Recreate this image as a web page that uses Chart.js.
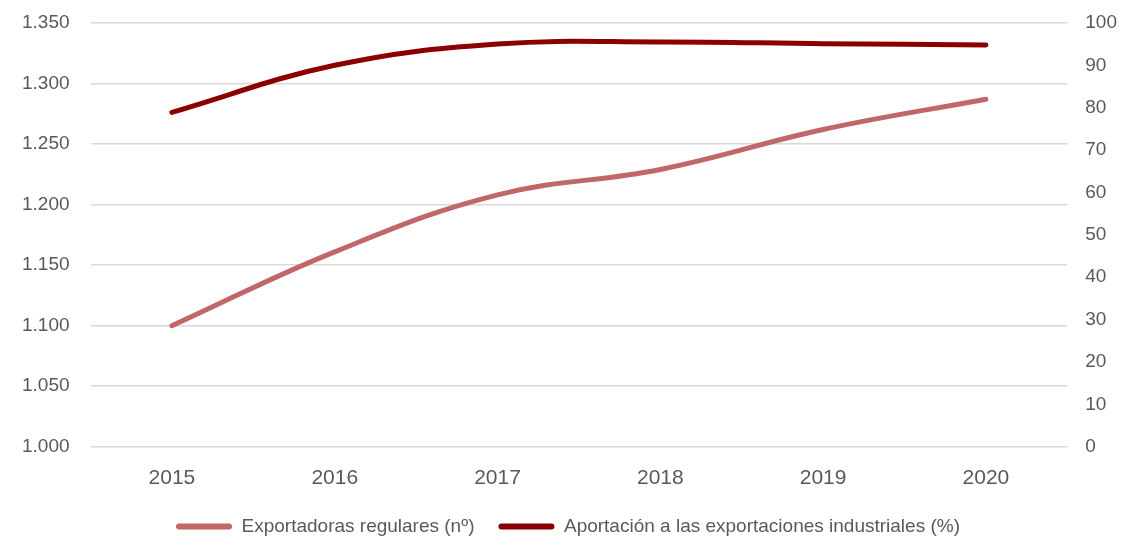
<!DOCTYPE html>
<html>
<head>
<meta charset="utf-8">
<script src="https://cdn.jsdelivr.net/npm/chart.js@4.4.0/dist/chart.umd.min.js"></script>
<style>
  html, body { margin: 0; padding: 0; background: #fff; }
  #wrap { width: 1135px; height: 546px; position: relative; }
</style>
</head>
<body>
<div id="wrap"><canvas id="chart"></canvas></div>
<script>
const years = ["2015", "2016", "2017", "2018", "2019", "2020"];
const exportadoras = [1100, 1161, 1208, 1229, 1262, 1287];
const aportacion = [78.9, 90.0, 95.0, 95.5, 95.1, 94.8];
const labelExport = "Exportadoras regulares (nº)";
const labelAport = "Aportación a las exportaciones industriales (%)";

const font = "'Liberation Sans', Arial, sans-serif";
const textColor = "#595959";

function fmtMiles(v) {
  const s = Math.round(v).toString();
  return s.length > 3 ? s.slice(0, s.length - 3) + "." + s.slice(-3) : s;
}

const ctx = document.getElementById("chart");
new Chart(ctx, {
  type: "line",
  data: {
    labels: years,
    datasets: [
      {
        label: labelExport,
        data: exportadoras,
        yAxisID: "y",
        borderColor: "#c0676a",
        backgroundColor: "#c0676a",
        borderWidth: 5,
        borderCapStyle: "round",
        pointRadius: 0,
        tension: 0.4
      },
      {
        label: labelAport,
        data: aportacion,
        yAxisID: "y1",
        borderColor: "#8b0000",
        backgroundColor: "#8b0000",
        borderWidth: 5,
        borderCapStyle: "round",
        pointRadius: 0,
        tension: 0.4
      }
    ]
  },
  options: {
    responsive: true,
    maintainAspectRatio: false,
    animation: false,
    layout: { padding: { left: 1, right: 0, top: 0, bottom: 0 } },
    plugins: {
      tooltip: { enabled: false },
      legend: {
        position: "bottom",
        labels: {
          color: textColor,
          font: { family: font, size: 19 },
          boxWidth: 56,
          boxHeight: 6,
          padding: 24,
          generateLabels(chart) {
            const items = Chart.defaults.plugins.legend.labels.generateLabels(chart);
            items.forEach(it => { it.lineWidth = 0; it.borderRadius = 3; });
            return items;
          }
        }
      }
    },
    scales: {
      x: {
        offset: true,
        grid: { display: false, tickLength: 17 },
        border: { display: false },
        ticks: { color: textColor, font: { family: font, size: 21 }, padding: 2 }
      },
      y: {
        position: "left",
        min: 1000,
        max: 1350,
        ticks: {
          stepSize: 50,
          color: textColor,
          font: { family: font, size: 19, lineHeight: 0.2 },
          padding: 21,
          callback: v => fmtMiles(v)
        },
        grid: { color: "#d9d9d9", lineWidth: 1.5, drawTicks: false },
        border: { display: false }
      },
      y1: {
        position: "right",
        min: 0,
        max: 100,
        ticks: {
          stepSize: 10,
          color: textColor,
          font: { family: font, size: 19, lineHeight: 0.2 },
          padding: 18
        },
        grid: { display: false, drawTicks: false },
        border: { display: false }
      }
    }
  }
});
</script>
</body>
</html>
